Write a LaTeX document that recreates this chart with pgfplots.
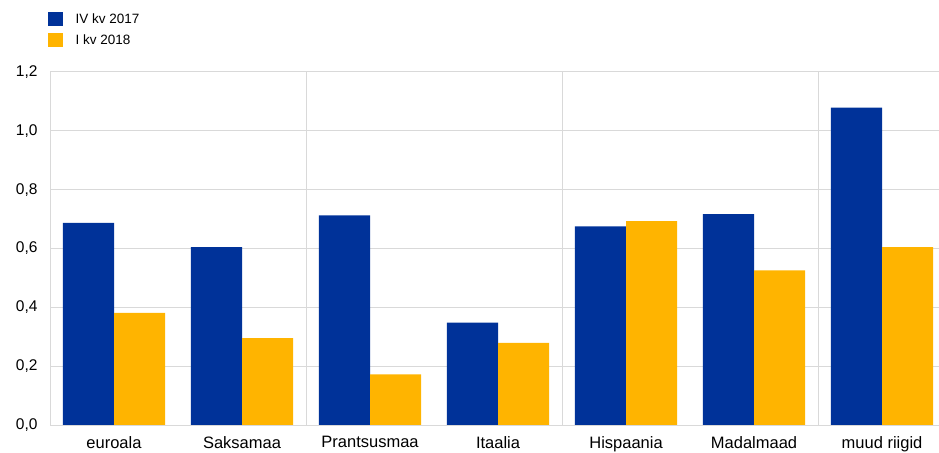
\documentclass[border=0pt]{standalone}
\usepackage{fontspec}
\setmainfont{Liberation Sans}
\usepackage{pgfplots}
\pgfplotsset{compat=1.18}

\definecolor{ecbblue}{HTML}{003299}
\definecolor{ecbyellow}{HTML}{FFB400}
\definecolor{gridgray}{HTML}{D9D9D9}

% Two quarters, seven country groups (x = 0..6)
\pgfplotstableread{
x  q4  q1
0  0.687 0.381
1  0.605 0.295
2  0.713 0.172
3  0.348 0.279
4  0.675 0.693
5  0.717 0.526
6  1.079 0.605
}\datatable

\begin{document}
\begin{tikzpicture}
\useasboundingbox (0,0) rectangle (939bp,453bp);
\begin{axis}[
  at={(50bp,28bp)}, anchor=south west,
  scale only axis,
  width=889bp, height=353bp,
  ybar=0pt, bar width=0.4,
  xmin=-0.5, xmax=6.445,
  ymin=0, ymax=1.2,
  ytick={0,0.2,...,1.2},
  xtick={0,...,6},
  xticklabels={euroala,Saksamaa,Prantsusmaa,Itaalia,Hispaania,Madalmaad,muud riigid},
  extra x ticks={1.5,3.5,5.5},
  extra x tick labels={},
  extra x tick style={grid=major, major grid style={gridgray, line width=1bp}},
  ymajorgrids,
  major grid style={gridgray, line width=1bp},
  major tick length=0pt,
  axis x line*=bottom, axis y line*=left,
  axis line style={gridgray, line width=1bp, -},
  y tick label style={font=\fontsize{15.5bp}{18bp}\selectfont, text=black, xshift=-9bp},
  x tick label style={font=\fontsize{16.5bp}{19bp}\selectfont, text=black, yshift=-8bp},
  /pgf/number format/.cd, use comma, fixed, fixed zerofill, precision=1, assume math mode=true,
  /pgfplots/.cd,
  legend style={
    at={(-0.003,1.18)}, anchor=north west,
    draw=none, fill=none, inner sep=0pt,
    font=\fontsize{13.5bp}{15bp}\selectfont,
    column sep=13bp, row sep=0pt,
    nodes={inner sep=0pt, minimum height=21bp, anchor=west},
  },
  legend cell align=left,
  legend image code/.code={\fill[#1] (0bp,-7bp) rectangle (15bp,7bp);},
]
\addplot[fill=ecbblue, draw=none] table[x=x, y=q4] {\datatable};
\addplot[fill=ecbyellow, draw=none] table[x=x, y=q1] {\datatable};
\legend{IV kv 2017, I kv 2018}
\end{axis}
\end{tikzpicture}
\end{document}
